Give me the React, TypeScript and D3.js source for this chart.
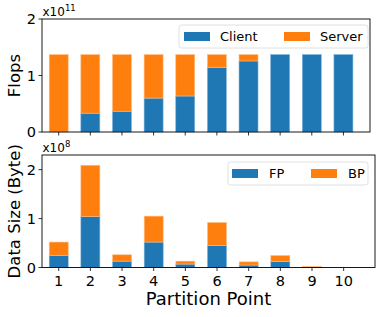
import { useEffect, useRef } from "react";
import * as d3 from "d3";

// partition points on the x axis
const partitions = [1, 2, 3, 4, 5, 6, 7, 8, 9, 10];

// top panel: flops split between client and server (x1e11)
const clientFlops = [0, 0.333, 0.368, 0.6, 0.637, 1.146, 1.257, 1.37, 1.37, 1.37];
const serverFlops = [1.37, 1.037, 1.002, 0.77, 0.733, 0.224, 0.113, 0, 0, 0];

// bottom panel: data size in bytes (x1e8)
const fpBytes = [0.25, 1.04, 0.13, 0.52, 0.07, 0.45, 0.05, 0.12, 0.01, 0];
const bpBytes = [0.27, 1.05, 0.13, 0.53, 0.06, 0.47, 0.065, 0.125, 0.01, 0];

const flopTicks = [0, 1, 2];
const byteTicks = [0, 1, 2];

const BLUE = "#1f77b4";
const ORANGE = "#ff7f0e";
const FONT = "DejaVu Sans, sans-serif";

interface Panel {
  top: number;
  bottom: number;
  right: number;
  xMax: number;
  yMax: number;
  lower: number[];
  upper: number[];
  ticks: number[];
  exponent: string;
  ylabel: string;
  legend: { labels: [string, string]; left: number; top: number };
  showTickLabels: boolean;
}

export default function App() {
  const svgRef = useRef<SVGSVGElement>(null);

  useEffect(() => {
    if (!svgRef.current) return;
    const width = 382;
    const height = 317;
    const left = 42;

    const svg = d3.select(svgRef.current).attr("width", width).attr("height", height);
    svg.selectAll("*").remove();

    const panels: Panel[] = [
      {
        top: 19,
        bottom: 132,
        right: 370,
        xMax: 10.84,
        yMax: 2,
        lower: clientFlops,
        upper: serverFlops,
        ticks: flopTicks,
        exponent: "11",
        ylabel: "Flops",
        legend: { labels: ["Client", "Server"], left: 179, top: 25 },
        showTickLabels: false,
      },
      {
        top: 155,
        bottom: 267.5,
        right: 375,
        xMax: 10.99,
        yMax: 2.3,
        lower: fpBytes,
        upper: bpBytes,
        ticks: byteTicks,
        exponent: "8",
        ylabel: "Data Size (Byte)",
        legend: { labels: ["FP", "BP"], left: 228, top: 162 },
        showTickLabels: true,
      },
    ];

    panels.forEach((p) => {
      const x = d3.scaleLinear().domain([0.472, p.xMax]).range([left, p.right]);
      const y = d3.scaleLinear().domain([0, p.yMax]).range([p.bottom, p.top]);
      // bar width 0.6 in data units
      const bw = x(1.3) - x(0.7);

      const g = svg.append("g");

      // stacked bars
      partitions.forEach((pt, i) => {
        const lo = p.lower[i];
        const hi = p.upper[i];
        if (lo > 0)
          g.append("rect")
            .attr("x", x(pt) - bw / 2)
            .attr("width", bw)
            .attr("y", y(lo))
            .attr("height", y(0) - y(lo))
            .attr("fill", BLUE)
            .attr("stroke", "#7fb2d9")
            .attr("stroke-width", 0.6);
        if (hi > 0)
          g.append("rect")
            .attr("x", x(pt) - bw / 2)
            .attr("width", bw)
            .attr("y", y(lo + hi))
            .attr("height", y(lo) - y(lo + hi))
            .attr("fill", ORANGE)
            .attr("stroke", "#ffbe85")
            .attr("stroke-width", 0.6);
      });

      // frame
      g.append("rect")
        .attr("x", left)
        .attr("y", p.top)
        .attr("width", p.right - left)
        .attr("height", p.bottom - p.top)
        .attr("fill", "none")
        .attr("stroke", "#000")
        .attr("stroke-width", 0.9);

      // x ticks
      partitions.forEach((pt) => {
        g.append("line")
          .attr("x1", x(pt))
          .attr("x2", x(pt))
          .attr("y1", p.bottom)
          .attr("y2", p.bottom + 3.5)
          .attr("stroke", "#000")
          .attr("stroke-width", 0.8);
        if (p.showTickLabels)
          g.append("text")
            .attr("x", x(pt))
            .attr("y", p.bottom + 18.5)
            .attr("text-anchor", "middle")
            .attr("font-family", FONT)
            .attr("font-size", 14.5)
            .text(pt);
      });

      // y ticks
      p.ticks.forEach((t) => {
        g.append("line")
          .attr("x1", left - 3.5)
          .attr("x2", left)
          .attr("y1", y(t))
          .attr("y2", y(t))
          .attr("stroke", "#000")
          .attr("stroke-width", 0.8);
        g.append("text")
          .attr("x", left - 6)
          .attr("y", y(t) + 5.2)
          .attr("text-anchor", "end")
          .attr("font-family", FONT)
          .attr("font-size", 14.5)
          .text(t);
      });

      // offset text
      const off = g
        .append("text")
        .attr("x", left + 0.5)
        .attr("y", p.top - 3)
        .attr("font-family", FONT)
        .attr("font-size", 12);
      off.append("tspan").text("x10");
      off.append("tspan").attr("dy", -5).attr("font-size", 8.5).text(p.exponent);

      // y label
      g.append("text")
        .attr("transform", `translate(19.5,${(p.top + p.bottom) / 2}) rotate(-90)`)
        .attr("text-anchor", "middle")
        .attr("font-family", FONT)
        .attr("font-size", 16.5)
        .text(p.ylabel);

      // legend
      const lg = g.append("g").attr("transform", `translate(${p.legend.left},${p.legend.top})`);
      const lw = 368 - p.legend.left;
      lg.append("rect")
        .attr("width", lw)
        .attr("height", 23)
        .attr("rx", 2.5)
        .attr("fill", "#fff")
        .attr("fill-opacity", 0.8)
        .attr("stroke", "#d8d8d8")
        .attr("stroke-width", 0.8);
      const colors = [BLUE, ORANGE];
      const slot = p.exponent === "11" ? [5, 105] : [4, 83];
      p.legend.labels.forEach((lab, i) => {
        lg.append("rect")
          .attr("x", slot[i])
          .attr("y", 7)
          .attr("width", 26)
          .attr("height", 9)
          .attr("fill", colors[i]);
        lg.append("text")
          .attr("x", slot[i] + (p.exponent === "11" ? 36 : 37))
          .attr("y", 15.5)
          .attr("font-family", FONT)
          .attr("font-size", 13)
          .text(lab);
      });
    });

    // x label
    svg
      .append("text")
      .attr("x", 208.5)
      .attr("y", 305)
      .attr("text-anchor", "middle")
      .attr("font-family", FONT)
      .attr("font-size", 18)
      .text("Partition Point");
  }, []);

  return (
    <svg
      ref={svgRef}
      style={{ position: "absolute", left: 0, top: 0, background: "#fff" }}
    />
  );
}
